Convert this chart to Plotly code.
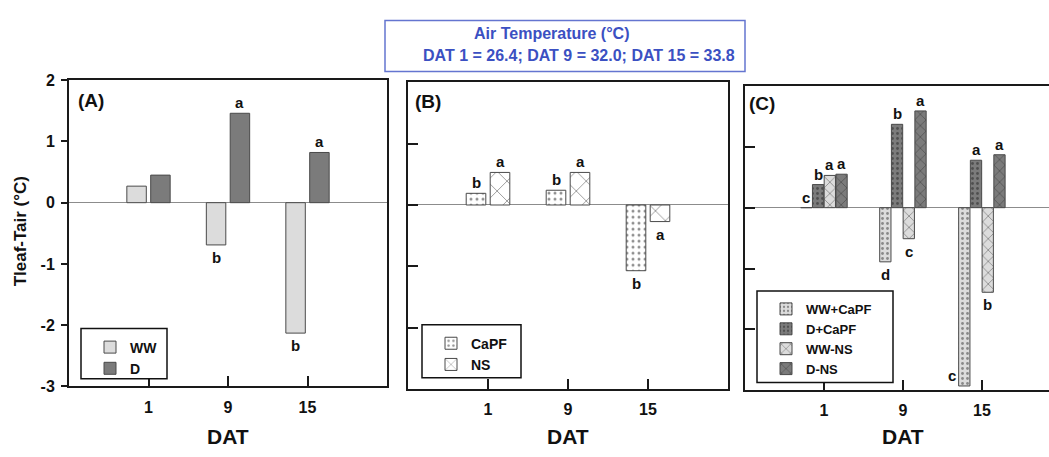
import plotly.graph_objects as go

# ---------------- data ----------------
dat = ['1', '9', '15']
y_tickvals = [2, 1, 0, -1, -2, -3]
y_ticktext = ['2', '1', '0', '-1', '-2', '-3']
y_range = [-3, 2]

# Panel A
ww = [0.27, -0.69, -2.13]
d = [0.45, 1.46, 0.82]
let_ww = ['', 'b', 'b']
let_d = ['', 'a', 'a']

# Panel B
capf = [0.19, 0.24, -1.07]
ns = [0.53, 0.53, -0.27]
let_capf = ['b', 'b', 'b']
let_ns = ['a', 'a', 'a']

# Panel C
ww_capf = [0.0, -0.89, -2.93]
d_capf = [0.38, 1.37, 0.78]
ww_ns = [0.53, -0.51, -1.39]
d_ns = [0.55, 1.59, 0.87]
let_ww_capf = ['c', 'd', 'c']
let_d_capf = ['b', 'b', 'a']
let_ww_ns = ['a', 'c', 'b']
let_d_ns = ['a', 'a', 'a']

title_line1 = 'Air Temperature (°C)'
title_line2 = 'DAT 1 = 26.4; DAT 9 = 32.0; DAT 15 = 33.8'

# ---------------- layout helpers ----------------
W, H = 1049, 457
FONT = 'Arial, Liberation Sans, sans-serif'
LIGHT = '#dcdcdc'
DARK = '#7b7b7b'
EDGE = '#4a4a4a'
BLUE = '#3b50c2'


def fx(p):
    return p / W


def fy(p):
    return 1 - p / H


fig = go.Figure()
annotations = []


def add_group(series, xa, ya, legend, slot, width, fsize_letter=15):
    n = len(series)
    for k, s in enumerate(series):
        off = (k - n / 2) * slot + (slot - width) / 2
        center = off + width / 2
        pat = s.get('pattern')
        marker = dict(color=s['color'], line=dict(color=EDGE, width=1))
        if pat:
            marker['pattern'] = dict(shape=pat['shape'], fillmode='overlay',
                                     fgcolor=pat['fg'], size=pat['size'],
                                     solidity=pat['solidity'])
        fig.add_trace(go.Bar(
            x=dat, y=s['y'], name='<b>' + s['name'] + '</b>', xaxis=xa, yaxis=ya,
            offset=off, width=width, marker=marker, legend=legend,
            cliponaxis=False, hoverinfo='skip'))
        for i, (v, t) in enumerate(zip(s['y'], s['letters'])):
            if not t:
                continue
            ann = dict(x=i + center, y=v, xref=xa, yref=ya, text='<b>' + t + '</b>',
                       showarrow=False,
                       font=dict(family=FONT, size=fsize_letter, color='#111'))
            if v < y_range[0] + 0.3:
                # no room below the bar: put the letter beside its end
                ann.update(x=i + off, xanchor='right', yanchor='bottom', xshift=-1)
            elif v >= 0:
                ann.update(yanchor='bottom')
            else:
                ann.update(yanchor='top', yshift=-2)
            annotations.append(ann)


dots_light = dict(shape='.', fg='#333', size=5, solidity=0.25)
dots_dark = dict(shape='.', fg='#222', size=5, solidity=0.25)
hatch_b = dict(shape='x', fg='#222', size=14, solidity=0.12)
hatch_c = dict(shape='x', fg='#222', size=8, solidity=0.18)

add_group([
    dict(y=ww, name='WW', color=LIGHT, letters=let_ww),
    dict(y=d, name='D', color=DARK, letters=let_d),
], 'x', 'y', 'legend', 0.30, 0.245)

add_group([
    dict(y=capf, name='CaPF', color='white', letters=let_capf,
         pattern=dict(shape='.', fg='#222', size=6, solidity=0.2)),
    dict(y=ns, name='NS', color='white', letters=let_ns, pattern=hatch_b),
], 'x2', 'y2', 'legend2', 0.30, 0.245)

add_group([
    dict(y=ww_capf, name='WW+CaPF', color=LIGHT, letters=let_ww_capf, pattern=dots_light),
    dict(y=d_capf, name='D+CaPF', color=DARK, letters=let_d_capf, pattern=dots_dark),
    dict(y=ww_ns, name='WW-NS', color=LIGHT, letters=let_ww_ns, pattern=hatch_c),
    dict(y=d_ns, name='D-NS', color=DARK, letters=let_d_ns, pattern=hatch_c),
], 'x3', 'y3', 'legend3', 0.1485, 0.143)

# ---------------- axes ----------------
panels = [
    ('', (69, 387), (75, 393), [-1, 3], True, True),
    ('2', (408, 728), (77, 396), [-1, 3], True, False),
    ('3', (745, 1049), (81, 397), [-1, 2.85], False, False),
]
tickfont = dict(family=FONT, size=16, color='#111')
for suf, xd, yd, xr, ymir, ylab in panels:
    fig.update_layout({
        'xaxis' + suf: dict(
            domain=[fx(xd[0]), fx(xd[1])], anchor='y' + suf, type='category',
            range=xr, showline=True, linecolor='#1a1a1a', linewidth=2, mirror=True,
            ticks='inside', ticklen=10, tickwidth=2, tickcolor='#1a1a1a',
            showgrid=False, zeroline=False, tickfont=tickfont,
            tickprefix='<b>', ticksuffix='</b>',
            ticklabelstandoff=5, fixedrange=True),
        'yaxis' + suf: dict(
            domain=[fy(yd[1]), fy(yd[0])], anchor='x' + suf, range=y_range,
            tickvals=y_tickvals, ticktext=['<b>' + t + '</b>' for t in y_ticktext],
            showline=True, linecolor='#1a1a1a', linewidth=2,
            mirror=ymir, ticks='outside' if ylab else 'inside',
            ticklen=6 if ylab else 10, tickwidth=2, tickcolor='#1a1a1a',
            showticklabels=ylab, tickfont=tickfont, ticklabelstandoff=3,
            showgrid=False, zeroline=True, zerolinecolor='#8c8c8c', zerolinewidth=1,
            fixedrange=True),
    })

# ---------------- text ----------------
for xa, lab, (px, py) in [('x', '(A)', (76, 96)), ('x2', '(B)', (413, 97.5)),
                          ('x3', '(C)', (747, 99))]:
    annotations.append(dict(x=fx(px), y=fy(py), xref='paper', yref='paper',
                            text='<b>' + lab + '</b>',
                            showarrow=False, xanchor='left', yanchor='middle',
                            font=dict(family=FONT, size=19, color='#111')))
    annotations.append(dict(x=1, y=fy(445), xref=xa, yref='paper', text='<b>DAT</b>',
                            showarrow=False, xanchor='center', yanchor='middle',
                            font=dict(family=FONT, size=21, color='#111')))

annotations.append(dict(x=fx(20), y=fy(232), xref='paper', yref='paper',
                        text='<b>Tleaf-Tair (°C)</b>', textangle=-90, showarrow=False,
                        xanchor='center', yanchor='middle',
                        font=dict(family=FONT, size=17, color='#111')))

annotations.append(dict(x=fx(551), y=fy(26), xref='paper', yref='paper',
                        text='<b>' + title_line1 + '</b>',
                        showarrow=False, xanchor='center', yanchor='middle',
                        font=dict(family=FONT, size=16, color=BLUE)))
annotations.append(dict(x=fx(579), y=fy(49), xref='paper', yref='paper',
                        text='<b>' + title_line2 + '</b>',
                        showarrow=False, xanchor='center', yanchor='middle',
                        font=dict(family=FONT, size=16, color=BLUE)))

shapes = [
    dict(type='rect', xref='paper', yref='paper', x0=fx(385), x1=fx(745),
         y0=fy(66), y1=fy(13), line=dict(color='#6475d0', width=1.5)),
    dict(type='rect', xref='paper', yref='paper', x0=fx(81), x1=fx(167),
         y0=fy(385), y1=fy(333), line=dict(color='#111', width=1.5),
         fillcolor='white', layer='above'),
    dict(type='rect', xref='paper', yref='paper', x0=fx(422), x1=fx(521),
         y0=fy(384), y1=fy(329), line=dict(color='#111', width=1.5),
         fillcolor='white', layer='above'),
    dict(type='rect', xref='paper', yref='paper', x0=fx(757), x1=fx(893),
         y0=fy(389), y1=fy(294), line=dict(color='#111', width=1.5),
         fillcolor='white', layer='above'),
]


def leg(px, py, size):
    return dict(x=fx(px), y=fy(py), xanchor='left', yanchor='top',
                bgcolor='rgba(0,0,0,0)', borderwidth=0, itemwidth=30,
                tracegroupgap=0, itemclick=False, itemdoubleclick=False,
                font=dict(family=FONT, size=size, color='#111'))


fig.update_layout(
    width=W, height=H, margin=dict(l=0, r=0, t=0, b=0),
    paper_bgcolor='white', plot_bgcolor='white',
    barmode='overlay', showlegend=True,
    font=dict(family=FONT, color='#111'),
    legend=leg(90, 336, 14),
    legend2=leg(431, 332, 14),
    legend3=leg(766, 297, 13),
    annotations=annotations, shapes=shapes,
)

fig.write_html('out.html', config={'displayModeBar': False})
